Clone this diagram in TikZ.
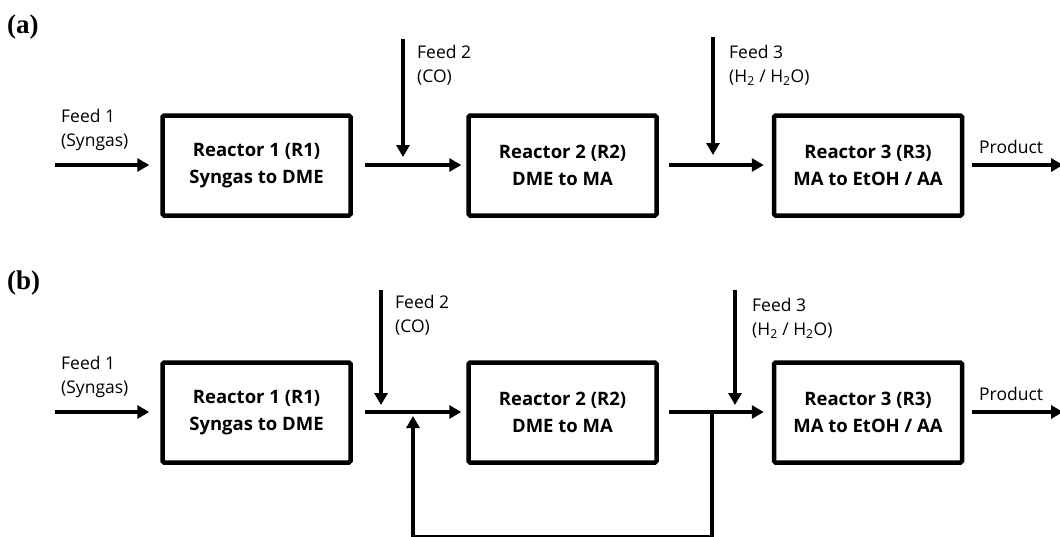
\documentclass[tikz,border=0pt]{standalone}
\usepackage{fontspec}
\setmainfont{Open Sans}
\newfontfamily\labelfont{Liberation Serif}
\usetikzlibrary{arrows.meta}
\begin{document}
\begin{tikzpicture}[x=1pt,y=-1pt,
  reactor/.style={draw,line width=4.5pt,rounded corners=1.5pt,minimum width=188pt,minimum height=100pt,
    align=center,font=\fontsize{18.5}{27}\selectfont\bfseries,inner sep=0pt},
  flow/.style={line width=3.8pt,-{Triangle[length=12pt,width=13pt]}},
  pipe/.style={line width=3.8pt},
  feedtxt/.style={anchor=west,align=left,inner sep=0pt,font=\fontsize{17.5}{24}\selectfont},
  panel/.style={anchor=west,inner sep=0pt,font=\labelfont\fontsize{27}{28}\selectfont\bfseries}]
\useasboundingbox (0,0) rectangle (1060,536);

% ---------- (a) ----------
\node[panel] (la) at (7,27) {(a)};
\node[reactor] (a1) at (256.5,165.5) {Reactor 1 (R1)\\Syngas to DME};
\node[reactor] (a2) at (562.5,165.5) {Reactor 2 (R2)\\DME to MA};
\node[reactor] (a3) at (868,165.5) {Reactor 3 (R3)\\MA to EtOH / AA};

\coordinate (af1) at (55,165);
\coordinate (af2s) at (403,39);
\coordinate (af2e) at (403,157);
\coordinate (af3s) at (713,37);
\coordinate (af3e) at (713,155);
\coordinate (aout) at (1063,165);

\draw[flow,shorten >=11pt] (af1) -- (a1.west |- af1);
\draw[flow,shorten <=12pt,shorten >=5pt] (a1.east |- af1) -- (a2.west |- af1);
\draw[flow,shorten <=10pt,shorten >=8pt] (a2.east |- af1) -- (a3.west |- af1);
\draw[flow,shorten <=8pt] (a3.east |- af1) -- (aout);
\draw[flow] (af2s) -- (af2e);
\draw[flow] (af3s) -- (af3e);

\node[feedtxt] (ta1) at (61,130) {Feed 1\\(Syngas)};
\node[feedtxt] (ta2) at (417,65) {Feed 2\\(CO)};
\node[feedtxt] (ta3) at (729,65.5) {Feed 3\\(H\textsubscript{2} / H\textsubscript{2}O)};
\node[feedtxt] (ta4) at (979,147) {Product};

% ---------- (b) ----------
\node[panel] (lb) at (7,283) {(b)};
\node[reactor] (b1) at (256.5,412.5) {Reactor 1 (R1)\\Syngas to DME};
\node[reactor] (b2) at (562.5,412.5) {Reactor 2 (R2)\\DME to MA};
\node[reactor] (b3) at (868,412.5) {Reactor 3 (R3)\\MA to EtOH / AA};

\coordinate (bf1) at (55,412);
\coordinate (bf2s) at (381,290);
\coordinate (bf2e) at (381,405);
\coordinate (bf3s) at (735,290);
\coordinate (bf3e) at (735,405);
\coordinate (bout) at (1063,412);
\coordinate (rj) at (712,412);
\coordinate (rb1) at (712,537);
\coordinate (rb2) at (413,537);
\coordinate (rin) at (413,416);

\draw[flow,shorten >=11pt] (bf1) -- (b1.west |- bf1);
\draw[flow,shorten <=12pt,shorten >=5pt] (b1.east |- bf1) -- (b2.west |- bf1);
\draw[flow,shorten <=10pt,shorten >=8pt] (b2.east |- bf1) -- (b3.west |- bf1);
\draw[flow,shorten <=8pt] (b3.east |- bf1) -- (bout);
\draw[flow] (bf2s) -- (bf2e);
\draw[flow] (bf3s) -- (bf3e);
\draw[pipe] (rj) -- (rb1) -- (rb2);
\draw[flow] (rb2) -- (rin);

\node[feedtxt] (tb1) at (61,377) {Feed 1\\(Syngas)};
\node[feedtxt] (tb2) at (395,315) {Feed 2\\(CO)};
\node[feedtxt] (tb3) at (752,318) {Feed 3\\(H\textsubscript{2} / H\textsubscript{2}O)};
\node[feedtxt] (tb4) at (979,394) {Product};
\end{tikzpicture}
\end{document}
